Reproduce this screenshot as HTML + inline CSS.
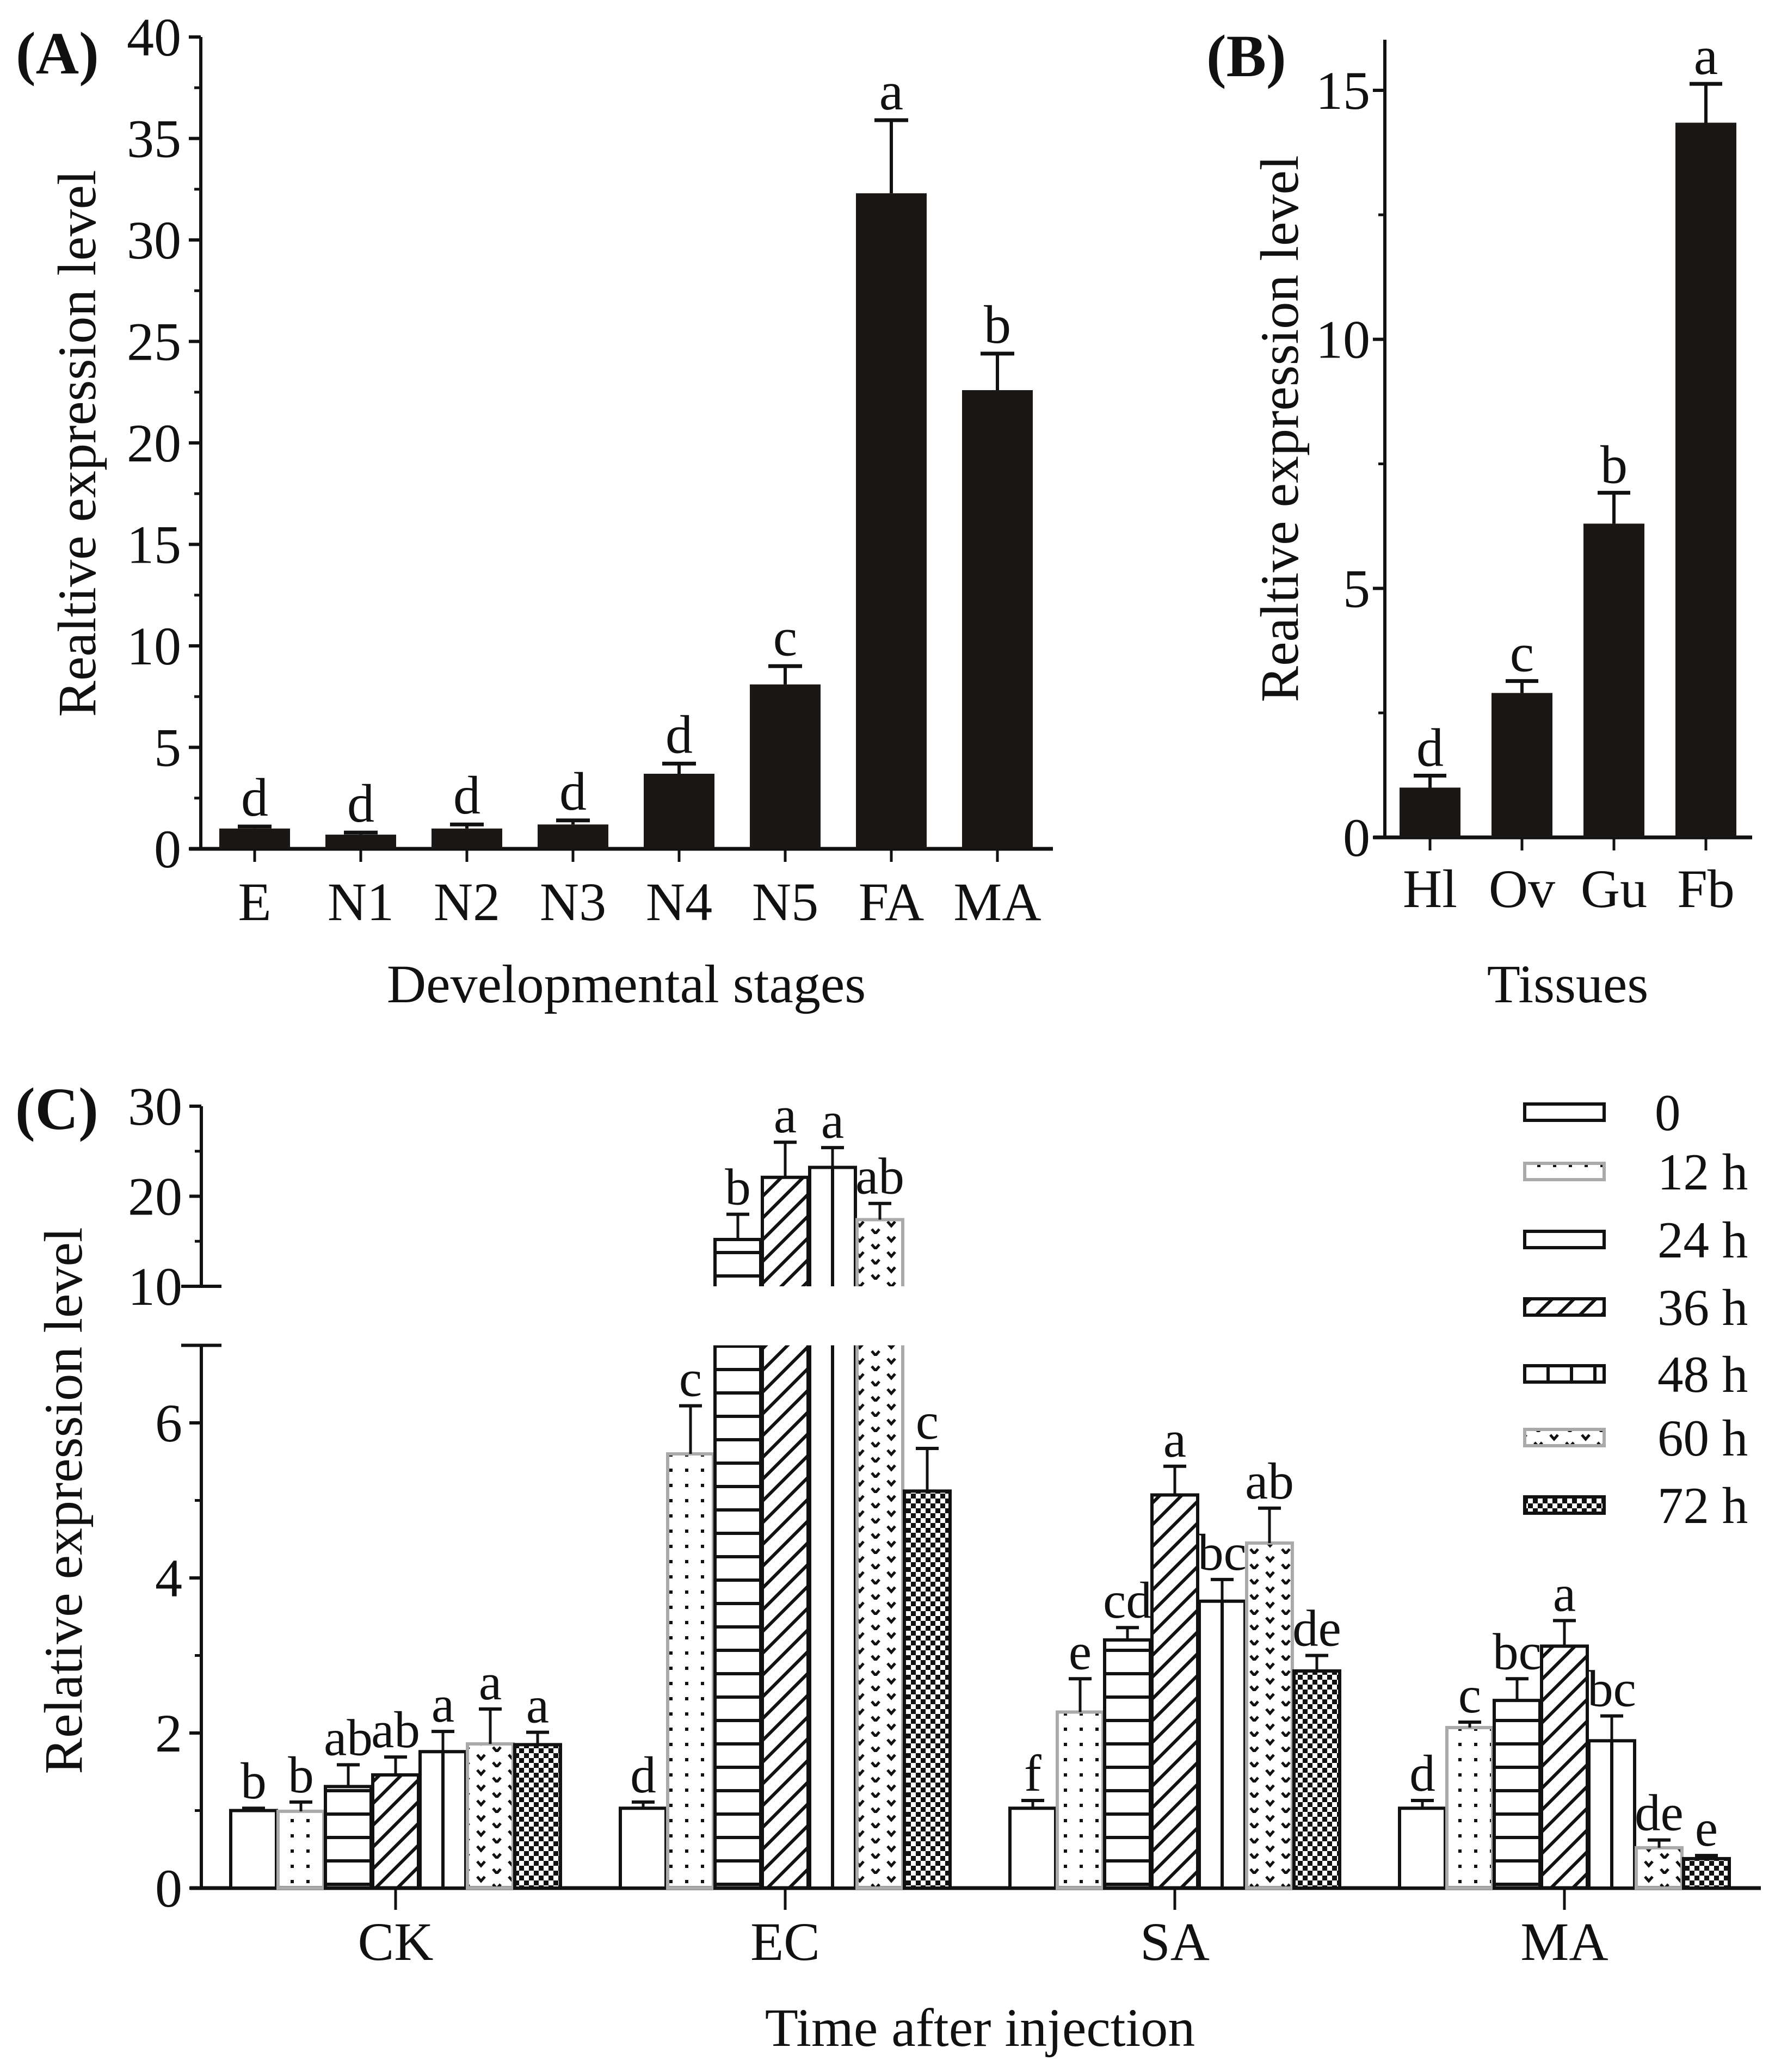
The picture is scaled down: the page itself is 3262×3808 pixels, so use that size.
<!DOCTYPE html>
<html><head><meta charset="utf-8"><style>
html,body{margin:0;padding:0;background:#fff;}
svg{display:block;}
text{font-family:"Liberation Serif",serif;fill:#111;}
</style></head><body>
<svg id="fig" width="3262" height="3808" viewBox="0 0 3262 3808" xmlns="http://www.w3.org/2000/svg">
<defs>
<pattern id="p12" patternUnits="userSpaceOnUse" width="29" height="28"><rect x="12" y="11" width="6" height="6" fill="#111"/></pattern>
<pattern id="p24" patternUnits="userSpaceOnUse" width="40" height="43"><rect x="0" y="20" width="40" height="6" fill="#111"/></pattern>
<pattern id="p36" patternUnits="userSpaceOnUse" width="40" height="40"><path d="M-10,10 L10,-10 M0,40 L40,0 M30,50 L50,30" stroke="#111" stroke-width="6"/></pattern>
<pattern id="p60" patternUnits="userSpaceOnUse" width="58" height="28"><path d="M7,5 L14,13 L21,5 M36,19 L43,27 L50,19" stroke="#111" stroke-width="5" fill="none"/></pattern>
<pattern id="p72" patternUnits="userSpaceOnUse" width="18" height="18"><rect width="18" height="18" fill="#111"/><rect x="0" y="0" width="9" height="9" fill="#fff"/><rect x="9" y="9" width="9" height="9" fill="#fff"/></pattern>
</defs>
<g id="pa"></g>
<g id="pb"></g>
<g id="pc"></g>
</svg>
<script>
// Panel A data
const aCats = ["E","N1","N2","N3","N4","N5","FA","MA"];
const aVals = [1.0,0.7,1.0,1.2,3.7,8.1,32.3,22.6];
const aErrs = [0.1,0.1,0.2,0.2,0.5,0.9,3.6,1.8];
const aLetters = ["d","d","d","d","d","c","a","b"];
const aTicks = [0,5,10,15,20,25,30,35,40];
// Panel B data
const bCats = ["Hl","Ov","Gu","Fb"];
const bVals = [1.0,2.9,6.3,14.35];
const bErrs = [0.24,0.24,0.62,0.78];
const bLetters = ["d","c","b","a"];
const bTicks = [0,5,10,15];
// Panel C data
const cGroups = ["CK","EC","SA","MA"];
const cSeries = ["0","12 h","24 h","36 h","48 h","60 h","72 h"];
const cValsCK = [1.0,0.99,1.31,1.46,1.76,1.86,1.85];
const cValsEC = [1.03,5.6,15.2,22.1,23.2,17.4,5.12];
const cValsSA = [1.03,2.27,3.2,5.07,3.7,4.45,2.8];
const cValsMA = [1.03,2.07,2.42,3.12,1.9,0.52,0.38];
const cErrsCK = [0.03,0.12,0.28,0.23,0.26,0.45,0.16];
const cErrsEC = [0.08,0.62,2.8,3.9,2.2,1.8,0.55];
const cErrsSA = [0.1,0.43,0.16,0.37,0.28,0.45,0.2];
const cErrsMA = [0.1,0.07,0.28,0.33,0.32,0.1,0.04];
const cLetCK = ["b","b","ab","ab","a","a","a"];
const cLetEC = ["d","c","b","a","a","ab","c"];
const cLetSA = ["f","e","cd","a","bc","ab","de"];
const cLetMA = ["d","c","bc","a","bc","de","e"];
const cTicksLow = [0,2,4,6];
const cTicksHigh = [10,20,30];

const NS="http://www.w3.org/2000/svg";
function mk(parent,tag,attrs,txt){const e=document.createElementNS(NS,tag);for(const k in attrs)e.setAttribute(k,attrs[k]);if(txt!==undefined)e.textContent=txt;parent.appendChild(e);return e;}
function line(p,x1,y1,x2,y2,w,name){const l=mk(p,"line",{x1:x1,y1:y1,x2:x2,y2:y2,stroke:"#111","stroke-width":w||6});

return l;}
function txt(p,x,y,s,size,anchor,name,extra){const t=mk(p,"text",Object.assign({x:x,y:y,"font-size":size,"text-anchor":anchor||"middle"},extra||{}),s);

return t;}

// ---------- Panel A ----------
(function(){
const g=document.getElementById('pa');
const x0=369,xr=1935,y0=1560,yTop=68,vmax=40;
const y=v=>y0-(v/vmax)*(y0-yTop);
const cx=i=>468+i*195;
txt(g,29,135,"(A)",110,"start","panel-label-a",{"font-weight":"bold"});
line(g,x0,y0+3,x0,yTop,6,'y-axis-a');
line(g,x0-21,y0,xr,y0,7,'x-axis-a');
aTicks.forEach(v=>{line(g,x0-22,y(v),x0,y(v),6,'y-tick-a');txt(g,333,y(v)+34,String(v),100,"end","y-tick-label-a");});
for(let v=2.5;v<40;v+=5)line(g,x0-12,y(v),x0,y(v),5,'y-minor-tick-a');
aCats.forEach((c,i)=>{
 line(g,cx(i),y0,cx(i),y0+24,5,'x-tick-a');
 txt(g,cx(i),1691,c,100,"middle","x-tick-label-a");
 const r=mk(g,"rect",{x:cx(i)-65,y:y(aVals[i]),width:130,height:y0-y(aVals[i]),fill:"#1a1715"});
 
 
 const te=y(aVals[i]+aErrs[i]);
 line(g,cx(i),y(aVals[i]),cx(i),te,6,'error-bar-a');
 line(g,cx(i)-31,te,cx(i)+31,te,7,'error-cap-a');
 txt(g,cx(i),te-20,aLetters[i],100,"middle","sig-letter-a");
});
txt(g,1151,1842,"Developmental stages",100,"middle","x-axis-title-a");
txt(g,0,0,"Realtive expression level",100,"middle","y-axis-title-a",{transform:"translate(175,815) rotate(-90)"});
})();

// ---------- Panel B ----------
(function(){
const g=document.getElementById('pb');
const x0=2545,xr=3220,y0=1539,y15=166,yTop=73;
const y=v=>y0-(v/15)*(y0-y15);
const cx=i=>2628+i*169;
txt(g,2217,140,"(B)",110,"start","panel-label-b",{"font-weight":"bold"});
line(g,x0,y0+3,x0,yTop,6,'y-axis-b');
line(g,x0-21,y0,xr,y0,7,'x-axis-b');
bTicks.forEach(v=>{line(g,x0-22,y(v),x0,y(v),6,'y-tick-b');txt(g,2518,y(v)+34,String(v),100,"end","y-tick-label-b");});
[2.5,7.5,12.5].forEach(v=>line(g,x0-12,y(v),x0,y(v),5,'y-minor-tick-b'));
bCats.forEach((c,i)=>{
 line(g,cx(i),y0,cx(i),y0+24,5,'x-tick-b');
 txt(g,cx(i),1667,c,100,"middle","x-tick-label-b");
 const r=mk(g,"rect",{x:cx(i)-56,y:y(bVals[i]),width:112,height:y0-y(bVals[i]),fill:"#1a1715"});
 
 
 const te=y(bVals[i]+bErrs[i]);
 line(g,cx(i),y(bVals[i]),cx(i),te,6,'error-bar-b');
 line(g,cx(i)-30,te,cx(i)+30,te,7,'error-cap-b');
 txt(g,cx(i),te-18,bLetters[i],100,"middle","sig-letter-b");
});
txt(g,2881,1842,"Tissues",100,"middle","x-axis-title-b");
txt(g,0,0,"Realtive expression level",100,"middle","y-axis-title-b",{transform:"translate(2385,788) rotate(-90)"});
})();

// ---------- Panel C ----------
(function(){
const g=document.getElementById('pc');
const x0=370,xr=3236,y0=3470,unit=142.5,yBreakLow=y0-7*unit,y10=2364,uHigh=16.55,y30=y10-20*uHigh;
const y=v=>v<=7?y0-v*unit:y10-(v-10)*uHigh;
const gx=[727,1443,2159,2875];
const vals=[cValsCK,cValsEC,cValsSA,cValsMA];
const errs=[cErrsCK,cErrsEC,cErrsSA,cErrsMA];
const lets=[cLetCK,cLetEC,cLetSA,cLetMA];
const fills=["#fff","url(#p12)","url(#p24)","url(#p36)","#fff","url(#p60)","url(#p72)"];
const strokes=["#111","#aaa","#111","#111","#111","#aaa","#111"];
txt(g,28,2075,"(C)",110,"start","panel-label-c",{"font-weight":"bold"});
line(g,x0,y0+3,x0,yBreakLow,6,'y-axis-c-lower');
line(g,x0,y10,x0,y30,6,'y-axis-c-upper');
line(g,333,yBreakLow,407,yBreakLow,6,'axis-break-mark');
line(g,333,y10,407,y10,6,'axis-break-mark');
line(g,x0-21,y0,xr,y0,7,'x-axis-c');
cTicksLow.forEach(v=>{line(g,x0-22,y(v),x0,y(v),6,'y-tick-c');txt(g,335,y(v)+34,String(v),100,"end","y-tick-label-c");});
[1,3,5].forEach(v=>line(g,x0-12,y(v),x0,y(v),5,'y-minor-tick-c'));
cTicksHigh.forEach(v=>{line(g,x0-22,y(v),x0,y(v),6,'y-tick-c');txt(g,335,y(v)+34,String(v),100,"end","y-tick-label-c");});
[15,25].forEach(v=>line(g,x0-12,y(v),x0,y(v),5,'y-minor-tick-c'));
function barSeg(bx,top,bot,si,openTop,openBot,name){
 const w=84;
 const r=mk(g,"rect",{x:bx-w/2,y:top,width:w,height:bot-top,fill:fills[si]});
 
 
 const sw=6,c=strokes[si];
 const L=bx-w/2,R=bx+w/2;
 const lines=[[L,top,L,bot],[R,top,R,bot]];
 if(!openTop)lines.push([L-3,top,R+3,top]);
 if(!openBot)lines.push([L-3,bot,R+3,bot]);
 lines.forEach(a=>{const l=mk(g,"line",{x1:a[0],y1:a[1],x2:a[2],y2:a[3],stroke:c,"stroke-width":sw});
  
  });
 if(si===4){const l=mk(g,"line",{x1:bx,y1:top,x2:bx,y2:bot,stroke:"#111","stroke-width":6});
  
  }
}
cGroups.forEach((gn,gi)=>{
 line(g,gx[gi],y0,gx[gi],y0+40,5,'x-tick-c');
 txt(g,gx[gi],3602,gn,100,"middle","x-tick-label-c");
 vals[gi].forEach((v,si)=>{
  const bx=gx[gi]+(si-3)*87;
  const nm='bar-'+gn.toLowerCase()+'-'+cSeries[si].replace(' ','');
  if(v>7){
   barSeg(bx,yBreakLow,y0,si,true,false,nm+'-lower');
   barSeg(bx,y(v),y10,si,false,true,nm+'-upper');
  } else barSeg(bx,y(v),y0,si,false,false,nm);
  const te=y(v+errs[gi][si]);
  line(g,bx,y(v),bx,te,5,'error-bar-c');
  line(g,bx-21,te,bx+21,te,6,'error-cap-c');
  txt(g,bx,te-18,lets[gi][si],95,"middle","sig-letter-c");
 });
});
txt(g,1801,3760,"Time after injection",100,"middle","x-axis-title-c");
txt(g,0,0,"Relative expression level",100,"middle","y-axis-title-c",{transform:"translate(150,2758) rotate(-90)"});
// legend
const ly=[2044,2153,2278,2402,2525,2642,2766];
cSeries.forEach((s,si)=>{
 const r=mk(g,"rect",{x:2802,y:ly[si]-15,width:146,height:30,fill:fills[si],stroke:strokes[si],"stroke-width":6});
 
 
 if(si===4){[2845,2888,2931].forEach(xx=>line(g,xx,ly[si]-15,xx,ly[si]+15,6,'legend-pattern-line'));}
 txt(g,s==="0"?3041:3046,ly[si]+33,s,95,"start","legend-label-"+s.replace(' ',''));
});
})();
</script>
</body></html>
